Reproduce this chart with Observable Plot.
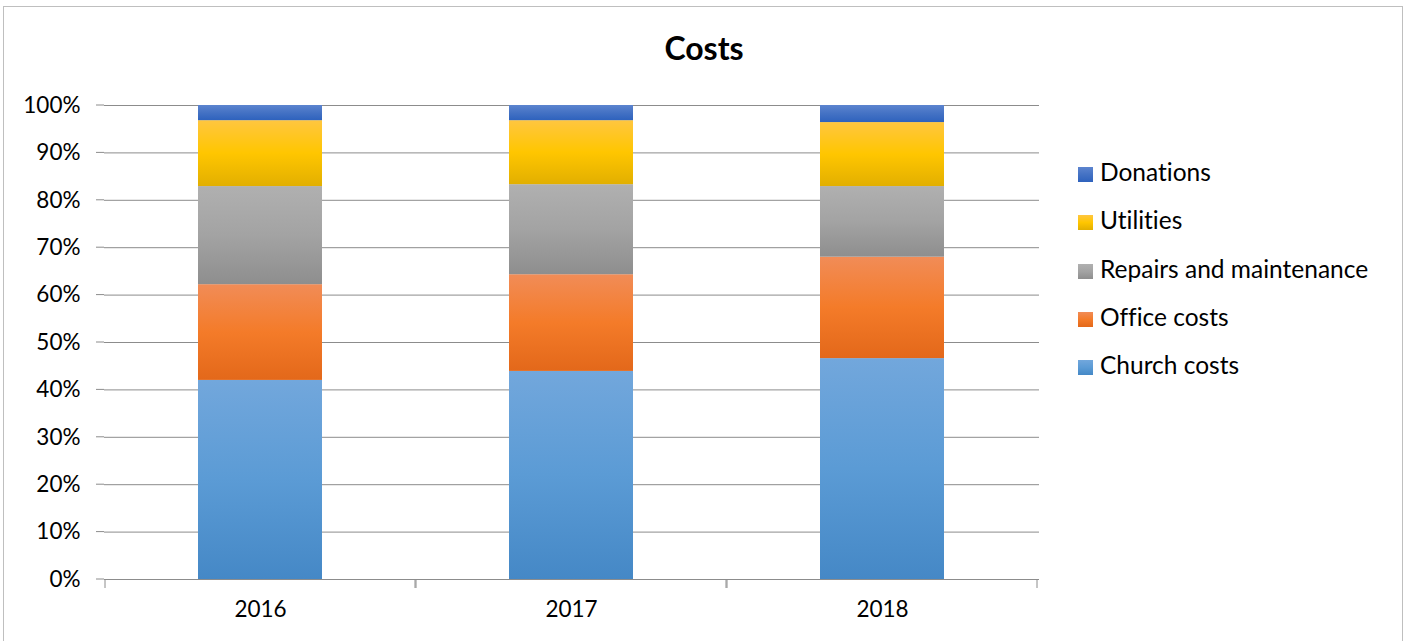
<!DOCTYPE html>
<html>
<head>
<meta charset="utf-8">
<script src="https://cdn.jsdelivr.net/npm/d3@7"></script>
<script src="https://cdn.jsdelivr.net/npm/@observablehq/plot@0.6"></script>
<style>
  html, body { margin: 0; padding: 0; background: #fff; overflow: hidden; width: 1411px; height: 641px; font-variant-ligatures: none; }
  svg text { font-variant-ligatures: none; }
  #frame { position: absolute; left: 3px; top: 6px; width: 1400px; height: 700px; border: 1px solid #bfbfbf; box-sizing: border-box; }
  #title { position: absolute; left: 0; width: 1408px; top: 28px; text-align: center; font-family: Lato, "Open Sans", sans-serif; font-weight: bold; font-size: 32px; color: #000; }
  #chart { position: absolute; left: 0; top: 70px; }
  #legend { position: absolute; left: 1078px; top: 157px; font-family: Lato, "Open Sans", sans-serif; font-size: 24.5px; color: #000; }
  .item { height: 48.3px; display: flex; align-items: flex-start; }
  .sw { width: 15px; height: 15px; margin-right: 7px; margin-top: 10px; }
</style>
</head>
<body>
<div id="frame"></div>
<div id="title">Costs</div>
<div id="chart"></div>
<div id="legend"></div>
<script>
const years = ["2016", "2017", "2018"];
const categories = ["Church costs", "Office costs", "Repairs and maintenance", "Utilities", "Donations"];
const churchCosts = [42.0, 43.9, 46.6];
const officeCosts = [20.2, 20.4, 21.4];
const repairs = [20.7, 19.0, 14.9];
const utilities = [13.9, 13.5, 13.5];
const donations = [3.2, 3.2, 3.6];
const yTicks = [0, 10, 20, 30, 40, 50, 60, 70, 80, 90, 100];

const seriesValues = [churchCosts, officeCosts, repairs, utilities, donations];
const gradients = [
  ["#72a7dc", "#5b9bd5", "#4588c6"],
  ["#f18c57", "#f47b29", "#e3681a"],
  ["#b0b0b0", "#a3a3a3", "#8e8e8e"],
  ["#ffc640", "#ffc600", "#e2af00"],
  ["#5c84cf", "#4472c4", "#2e62bd"]
];

const data = [];
categories.forEach((c, i) => years.forEach((y, j) => data.push({year: y, category: c, value: seriesValues[i][j]})));

const plot = Plot.plot({
  width: 1050,
  height: 571,
  marginTop: 35,
  marginBottom: 62,
  marginLeft: 104,
  marginRight: 11,
  style: {fontFamily: "Lato, 'Open Sans', sans-serif", fontSize: "22.5px", color: "#000", background: "transparent"},
  x: {domain: years, paddingInner: 0.6, paddingOuter: 0.3, label: null, tickSize: 0, tickPadding: 22},
  y: {domain: [0, 100], ticks: yTicks, tickFormat: d => d + "%", label: null, tickSize: 0, tickPadding: 24},
  color: {domain: categories, range: categories.map((c, i) => `url(#grad${i})`)},
  marks: [
    Plot.ruleY(yTicks, {stroke: "#8c8c8c", strokeWidth: 1, strokeOpacity: 1}),
    Plot.barY(data, {x: "year", y: "value", fill: "category", order: categories}),
    Plot.ruleX([0], {stroke: "#8c8c8c"}),
    Plot.ruleY([0], {stroke: "#8c8c8c"})
  ]
});

// gradient defs
const ns = "http://www.w3.org/2000/svg";
const defs = document.createElementNS(ns, "defs");
gradients.forEach((g, i) => {
  const lg = document.createElementNS(ns, "linearGradient");
  lg.setAttribute("id", "grad" + i);
  lg.setAttribute("x1", "0"); lg.setAttribute("y1", "0");
  lg.setAttribute("x2", "0"); lg.setAttribute("y2", "1");
  g.forEach((col, k) => {
    const st = document.createElementNS(ns, "stop");
    st.setAttribute("offset", (k * 50) + "%");
    st.setAttribute("stop-color", col);
    lg.appendChild(st);
  });
  defs.appendChild(lg);
});
plot.insertBefore(defs, plot.firstChild);
document.getElementById("chart").appendChild(plot);

// axis decorations via scales: left tick stubs and category boundary ticks
const xs = plot.scale("x"), ys = plot.scale("y");
const g = document.createElementNS(ns, "g");
g.setAttribute("stroke", "#8c8c8c");
const y0 = ys.apply(0);
yTicks.forEach(t => {
  const l = document.createElementNS(ns, "line");
  const yy = ys.apply(t);
  l.setAttribute("x1", 96); l.setAttribute("x2", 104);
  l.setAttribute("y1", yy); l.setAttribute("y2", yy);
  g.appendChild(l);
});
const bandStep = xs.bandwidth / 0.4;
years.forEach((yv) => {
  const center = xs.apply(yv) + xs.bandwidth / 2;
  [center - bandStep / 2, center + bandStep / 2].forEach(xx => {
    const l = document.createElementNS(ns, "line");
    l.setAttribute("x1", xx); l.setAttribute("x2", xx);
    l.setAttribute("y1", y0); l.setAttribute("y2", y0 + 9);
    g.appendChild(l);
  });
});
plot.appendChild(g);

// legend
const leg = document.getElementById("legend");
categories.slice().reverse().forEach((c) => {
  const i = categories.indexOf(c);
  const d = document.createElement("div");
  d.className = "item";
  d.innerHTML = `<div class="sw" style="background:linear-gradient(${gradients[i][0]},${gradients[i][1]},${gradients[i][2]})"></div><span>${c}</span>`;
  leg.appendChild(d);
});
</script>
</body>
</html>
